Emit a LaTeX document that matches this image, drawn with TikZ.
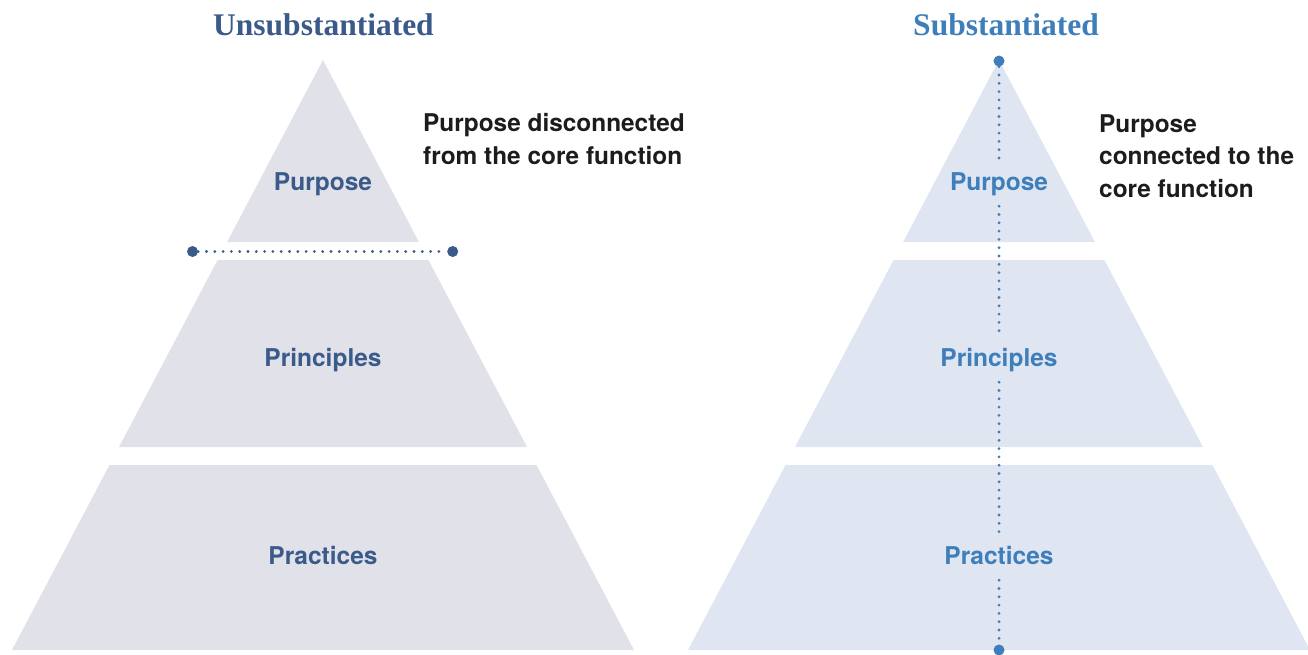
\documentclass[tikz,border=0pt]{standalone}
\usepackage{fontspec}
\setmainfont{Liberation Serif}
\newfontfamily\labfont{TeX Gyre Heros}
\definecolor{lfill}{HTML}{E0E1E9}
\definecolor{rfill}{HTML}{DFE5F1}
\definecolor{ltext}{HTML}{3A5A8A}
\definecolor{rtext}{HTML}{3E7EBA}
\definecolor{body}{HTML}{1C1C1C}
\tikzset{
  titletext/.style={font=\fontsize{31.5}{36}\selectfont\bfseries, anchor=base},
  layerlabel/.style={font=\labfont\fontsize{24.5}{28}\selectfont\bfseries, anchor=base,
     text height=18pt, text depth=5pt, inner xsep=2pt, inner ysep=11pt},
  sidetext/.style={font=\labfont\fontsize{24.4}{32.3}\selectfont\bfseries, text=body,
     anchor=base west, align=left, inner sep=0pt},
  bigdot/.style={circle, fill, inner sep=0pt, minimum size=11pt},
  dotline/.style={line width=3.1pt, line cap=round, dash pattern=on 0pt off 8.3pt},
}
\begin{document}
\begin{tikzpicture}[x=1pt,y=-1pt]
\useasboundingbox (0,0) rectangle (1308,654);
% ---------- left pyramid ----------
\fill[lfill] (323,60) -- (418.9,242) -- (227.1,242) -- cycle;
\fill[lfill] (217.6,260) -- (428.4,260) -- (527,447) -- (119,447) -- cycle;
\fill[lfill] (109.5,465) -- (536.5,465) -- (634,650) -- (12,650) -- cycle;
\node[titletext, text=ltext] (ltitle) at (323.5,35) {Unsubstantiated};
\node[layerlabel, text=ltext] (lpurpose) at (323,190) {Purpose};
\node[layerlabel, text=ltext] (lprinciples) at (323,366) {Principles};
\node[layerlabel, text=ltext] (lpractices) at (323,564) {Practices};
\node[bigdot, fill=ltext] (ldotA) at (192.5,251.5) {};
\node[bigdot, fill=ltext] (ldotB) at (452.7,251.5) {};
\draw[dotline, ltext] (ldotA) -- (ldotB);
\node[sidetext] (ltext) at (423,164) {Purpose disconnected\\from the core function};
% ---------- right pyramid ----------
\fill[rfill] (999,60) -- (1094.9,242) -- (903.1,242) -- cycle;
\fill[rfill] (893.6,260) -- (1104.4,260) -- (1203,447) -- (795,447) -- cycle;
\fill[rfill] (785.5,465) -- (1212.5,465) -- (1310,650) -- (688,650) -- cycle;
\node[titletext, text=rtext] (rtitle) at (1006,35) {Substantiated};
\node[layerlabel, text=rtext] (rpurpose) at (999,190) {Purpose};
\node[layerlabel, text=rtext] (rprinciples) at (999,366) {Principles};
\node[layerlabel, text=rtext] (rpractices) at (999,564) {Practices};
\node[bigdot, fill=rtext] (rdotA) at (999,61) {};
\node[bigdot, fill=rtext] (rdotB) at (999,650) {};
\draw[dotline, rtext] (rdotA) -- (rpurpose.north);
\draw[dotline, rtext] (rpurpose.south) -- (rprinciples.north);
\draw[dotline, rtext] (rprinciples.south) -- (rpractices.north);
\draw[dotline, rtext] (rpractices.south) -- (rdotB);
\node[sidetext] (rtext) at (1099,197) {Purpose\\connected to the\\core function};
\end{tikzpicture}
\end{document}
